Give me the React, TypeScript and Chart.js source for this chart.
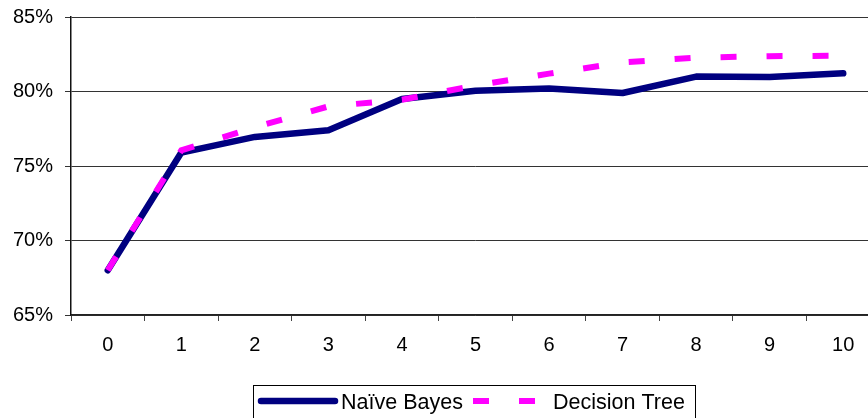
import React, { useEffect, useRef } from "react";
import { Chart, registerables } from "chart.js";

Chart.register(...registerables);

const categories: string[] = ["0", "1", "2", "3", "4", "5", "6", "7", "8", "9", "10"];
const naiveBayes: number[] = [68.0, 75.9, 76.95, 77.4, 79.5, 80.05, 80.2, 79.9, 81.0, 80.98, 81.22];
const decisionTree: number[] = [68.0, 76.05, 77.6, 79.0, 79.45, 80.4, 81.2, 81.95, 82.27, 82.37, 82.4];
const seriesLabels: string[] = ["Naïve Bayes", "Decision Tree"];
const yTicks: number[] = [65, 70, 75, 80, 85];

const FONT = "'Liberation Sans', Arial, sans-serif";

const legendPlugin = {
  id: "boxedLegend",
  afterDraw(chart: any) {
    const ctx = chart.ctx as CanvasRenderingContext2D;
    const ds = chart.data.datasets;
    ctx.save();
    ctx.strokeStyle = "#000";
    ctx.lineWidth = 1;
    ctx.setLineDash([]);
    ctx.strokeRect(253.5, 385.5, 442, 60);
    const cy = 401;
    ctx.beginPath();
    ctx.strokeStyle = ds[0].borderColor;
    ctx.lineWidth = ds[0].borderWidth;
    ctx.lineCap = "round";
    ctx.moveTo(261, cy);
    ctx.lineTo(335, cy);
    ctx.stroke();
    ctx.beginPath();
    ctx.strokeStyle = ds[1].borderColor;
    ctx.lineWidth = ds[1].borderWidth;
    ctx.lineCap = "butt";
    ctx.setLineDash(ds[1].borderDash);
    ctx.moveTo(473, cy);
    ctx.lineTo(535, cy);
    ctx.stroke();
    ctx.setLineDash([]);
    ctx.fillStyle = "#000";
    ctx.font = `21.5px ${FONT}`;
    ctx.textBaseline = "middle";
    ctx.textAlign = "left";
    ctx.fillText(ds[0].label, 341, cy + 2.5);
    ctx.fillText(ds[1].label, 553, cy + 2.5);
    ctx.restore();
  },
};

export default function App() {
  const ref = useRef<HTMLCanvasElement | null>(null);

  useEffect(() => {
    if (!ref.current) return;
    const chart = new Chart(ref.current, {
      type: "line",
      data: {
        labels: categories,
        datasets: [
          {
            label: seriesLabels[0],
            data: naiveBayes,
            borderColor: "#000080",
            backgroundColor: "#000080",
            borderWidth: 6.5,
            borderCapStyle: "round",
            borderJoinStyle: "round",
            pointRadius: 0,
            tension: 0,
            fill: false,
            order: 1,
          },
          {
            label: seriesLabels[1],
            data: decisionTree,
            borderColor: "#FF00FF",
            backgroundColor: "#FF00FF",
            borderWidth: 6,
            borderDash: [16, 30],
            borderCapStyle: "butt",
            pointRadius: 0,
            tension: 0,
            fill: false,
            order: 0,
          },
        ],
      },
      options: {
        animation: false,
        responsive: true,
        maintainAspectRatio: false,
        devicePixelRatio: 1,
        layout: { padding: { top: 17, right: 2, bottom: 53, left: 0 } },
        plugins: {
          legend: { display: false },
          tooltip: { enabled: false },
        },
        scales: {
          x: {
            type: "category",
            offset: true,
            grid: {
              offset: true,
              drawOnChartArea: false,
              drawTicks: true,
              tickLength: 6,
              color: "#444",
            },
            border: { display: true, color: "#222", width: 1.5 },
            ticks: {
              color: "#000",
              font: { family: FONT, size: 20 },
              padding: 12,
              maxRotation: 0,
              autoSkip: false,
            },
            afterFit: (s: any) => {
              s.height = 50;
            },
          },
          y: {
            min: yTicks[0],
            max: yTicks[yTicks.length - 1],
            afterBuildTicks: (s: any) => {
              s.ticks = yTicks.map((v) => ({ value: v }));
            },
            grid: {
              color: "#333",
              lineWidth: 1,
              drawTicks: true,
              tickLength: 6,
            },
            border: { display: true, color: "#111", width: 1.5 },
            ticks: {
              color: "#000",
              font: { family: FONT, size: 20 },
              padding: 12,
              callback: (v: any) => `${v}%`,
            },
            afterFit: (s: any) => {
              s.width = 71;
              s.paddingTop = 0;
              s.paddingBottom = 0;
            },
          },
        },
      },
      plugins: [legendPlugin],
    });
    return () => chart.destroy();
  }, []);

  return (
    <div style={{ position: "fixed", left: 0, top: 0, width: 868, height: 418, overflow: "hidden", background: "#fff" }}>
      <div style={{ position: "relative", width: 882, height: 418 }}>
        <canvas ref={ref} />
      </div>
    </div>
  );
}
